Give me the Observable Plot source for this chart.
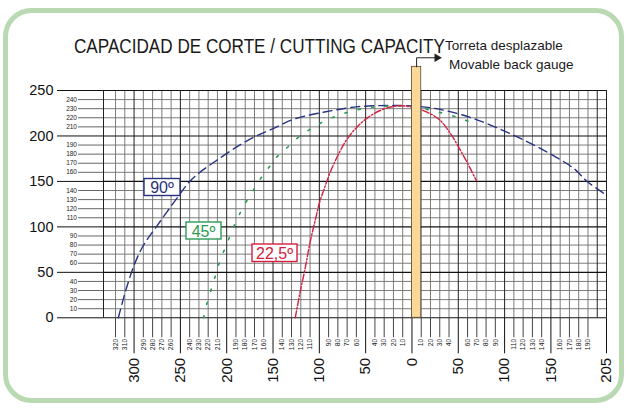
<!DOCTYPE html>
<html><head><meta charset="utf-8">
<script src="https://cdn.jsdelivr.net/npm/d3@7"></script>
<script src="https://cdn.jsdelivr.net/npm/@observablehq/plot@0.6"></script>
<style>
html,body{margin:0;padding:0;background:#fff;}
#wrap{position:relative;width:627px;height:408px;overflow:hidden;font-family:"Liberation Sans",Arial,sans-serif;}
#wrap svg{position:absolute;left:0;top:0;}
</style></head><body><div id="wrap"></div>
<script>
// ---- data (x: left side negative, shown as absolute value) ----
const angle90X = [-317, -309, -299.5, -290, -276, -252, -240, -229, -211, -186, -168, -150, -126, -96, -60, -23, 0, 20, 40, 67, 103, 139, 175, 189, 210];
const angle90Y = [0, 30, 59, 79.5, 100, 134, 150, 160, 173, 190, 200, 208, 219, 226, 232, 233.5, 233, 231, 227, 219, 204, 186, 164, 150, 135];
const angle45X = [-225, -221, -216, -211.6, -206.5, -200.8, -194.6, -188.5, -181.3, -173, -164.8, -155, -145.3, -133.4, -121.5, -108, -94.5, -80, -65, -49.4, -33.5, -18, -4, 12.6, 29.5, 52, 61];
const angle45Y = [0, 17, 33.7, 48.4, 65, 78.8, 95, 109, 123.5, 137.5, 151, 164.6, 177.5, 188.4, 199.5, 208.6, 216.3, 222.5, 227.3, 230.6, 232.5, 233, 233, 230, 226, 219.6, 216];
const angle22X = [-126, -120.8, -115.4, -110, -104.5, -100, -95, -88.3, -80, -71, -59.5, -47, -34.3, -20, -7.6, 9, 19.8, 30.6, 41.4, 50.4, 59.5, 69.5];
const angle22Y = [0, 28, 54, 83, 107, 126, 141, 160, 178.5, 195, 209.7, 220.7, 228, 232.5, 233, 229, 224.4, 217, 203, 187.7, 171, 151];

const seriesNames = ["90º", "45º", "22,5º"];
const seriesColors = ["#283282", "#2b9a55", "#d4203f"];

const gaugeBar = [{x1: 0, x2: 10, y1: 0, y2: 276}];
const gaugeArrow = [[5, 276], [5, 286], [25, 286]];

const xMajorTicks = [-300, -250, -200, -150, -100, -50, 0, 50, 100, 150, 210];
const xMajorLabels = ["300", "250", "200", "150", "100", "50", "0", "50", "100", "150", "205"];
const xMinorTicks = [-320, -310, -290, -280, -270, -260, -240, -230, -220, -210, -190, -180, -170, -160, -140, -130, -120, -110, -90, -80, -70, -60, -40, -30, -20, -10,
                     10, 20, 30, 40, 60, 70, 80, 90, 110, 120, 130, 140, 160, 170, 180, 190];
const yMajorTicks = [0, 50, 100, 150, 200, 250];
const yMinorTicks = [10, 20, 30, 40, 60, 70, 80, 90, 110, 120, 130, 140, 160, 170, 180, 190, 210, 220, 230, 240];

const gridXMinor = d3.range(-320, 211, 10).filter(v => v % 50 !== 0);
const gridXMajor = [-333, -300, -250, -200, -150, -100, -50, 0, 50, 100, 150, 200, 210];
const gridYMinor = d3.range(0, 251, 10).filter(v => v % 50 !== 0);

const toPts = (xs, ys) => xs.map((x, i) => ({x, y: ys[i]}));
const d90 = toPts(angle90X, angle90Y), d45 = toPts(angle45X, angle45Y), d22 = toPts(angle22X, angle22Y);
const majorLabelOf = new Map(xMajorTicks.map((t, i) => [t, xMajorLabels[i]]));

const chart = Plot.plot({
  width: 627, height: 408,
  marginLeft: 103, marginRight: 21, marginTop: 90, marginBottom: 90.7,
  style: {fontFamily: "'Liberation Sans', Arial, sans-serif", background: "transparent", color: "#111"},
  x: {domain: [-333, 210]},
  y: {domain: [0, 250]},
  marks: [
    Plot.ruleY(gridYMinor, {x1: -333, x2: 210, stroke: "#6e6e6e", strokeWidth: 0.9}),
    Plot.ruleX(gridXMinor, {y1: 0, y2: 250, stroke: "#6e6e6e", strokeWidth: 0.9}),
    Plot.ruleX(gridXMajor, {y1: 0, y2: 250, stroke: "#222", strokeWidth: 1}),
    Plot.ruleY(yMajorTicks, {x1: -333, x2: 210, stroke: "#111", strokeWidth: 1.1}),
    Plot.axisY({ticks: yMinorTicks, tickSize: 25, tickPadding: 1.5, fontSize: 6.5, label: null, stroke: "#666", fill: "#222"}),
    Plot.axisY({ticks: yMajorTicks, tickSize: 46, tickPadding: 4, fontSize: 14.5, label: null, stroke: "#111"}),
    Plot.axisX({ticks: xMinorTicks, tickFormat: d => Math.abs(d), tickSize: 20, tickPadding: 1, tickRotate: -90, fontSize: 6.8, label: null, stroke: "#444", fill: "#222"}),
    Plot.axisX({ticks: xMajorTicks, tickFormat: d => majorLabelOf.get(d), tickSize: 36, tickPadding: 4, tickRotate: -90, fontSize: 15, label: null, stroke: "#111"}),
    Plot.line(d90, {x: "x", y: "y", stroke: seriesColors[0], strokeWidth: 1.4, strokeDasharray: "9,5", curve: "catmull-rom"}),
    Plot.line(d45, {x: "x", y: "y", stroke: seriesColors[1], strokeWidth: 1.6, strokeDasharray: "2.2,11.5", curve: "catmull-rom"}),
    Plot.line(d22, {x: "x", y: "y", stroke: seriesColors[2], strokeWidth: 1.4, strokeDasharray: "7,2,1.5,2", curve: "catmull-rom"}),
    Plot.rect(gaugeBar, {x1: "x1", x2: "x2", y1: "y1", y2: "y2", fill: "#fcd998", stroke: "#5a4a30", strokeWidth: 0.8}),
    Plot.line(gaugeArrow, {x: d => d[0], y: d => d[1], stroke: "#222", strokeWidth: 1}),
    Plot.dot([gaugeArrow[2]], {x: d => d[0] + 2, y: d => d[1], symbol: "triangle", rotate: 90, r: 3.2, fill: "#222"})
  ]
});
const wrap = document.getElementById("wrap");
wrap.appendChild(chart);

const ns = "http://www.w3.org/2000/svg";
const ov = document.createElementNS(ns, "svg");
ov.setAttribute("width", 627); ov.setAttribute("height", 408);
ov.innerHTML = `
<rect x="5.5" y="10.5" width="616" height="390" rx="26" fill="none" stroke="#b9d9b2" stroke-width="5"/>
<text x="74" y="52.5" font-size="20" fill="#1a1a1a" font-family="'Liberation Sans Narrow','Liberation Sans',Arial,sans-serif" textLength="371" lengthAdjust="spacingAndGlyphs">CAPACIDAD DE CORTE / CUTTING CAPACITY</text>
<text x="445" y="50" font-size="13.5" fill="#1a1a1a" font-family="'Liberation Sans',Arial,sans-serif">Torreta desplazable</text>
<text x="449" y="69" font-size="13.5" fill="#1a1a1a" font-family="'Liberation Sans',Arial,sans-serif">Movable back gauge</text>
`;
const boxes = [
  {x: 144, y: 178.5, w: 36, h: 17},
  {x: 186, y: 222, w: 35, h: 17},
  {x: 252, y: 244, w: 45, h: 17.5}
];
boxes.forEach((b, i) => {
  const c = seriesColors[i];
  ov.innerHTML += `<rect x="${b.x}" y="${b.y}" width="${b.w}" height="${b.h}" fill="#fff" stroke="${c}" stroke-width="1.4"/>
  <text x="${b.x + b.w / 2}" y="${b.y + b.h - 2.5}" text-anchor="middle" font-size="16" fill="${c}" font-family="'Liberation Sans',Arial,sans-serif">${seriesNames[i]}</text>`;
});
wrap.appendChild(ov);
</script>
</body></html>
